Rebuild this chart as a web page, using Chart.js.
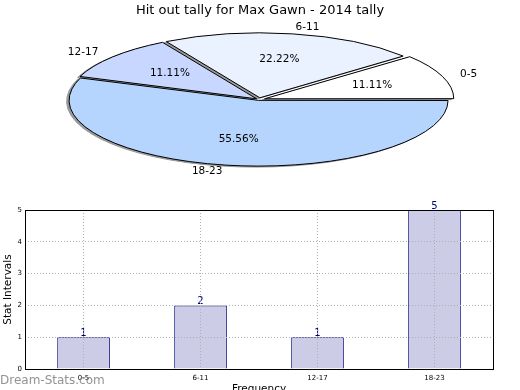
<!DOCTYPE html>
<html>
<head>
<meta charset="utf-8">
<script src="https://cdn.jsdelivr.net/npm/chart.js@4"></script>
<style>
  html, body { margin: 0; padding: 0; background: #fff; overflow: hidden; }
  body { width: 520px; height: 390px; position: relative; }
  canvas { position: absolute; left: 0; top: 0; }
</style>
</head>
<body>
<canvas id="barChart" width="520" height="400"></canvas>
<canvas id="pieChart" width="520" height="390"></canvas>
<script>
// chart data
const categories = ['0-5', '6-11', '12-17', '18-23'];
const tally = [1, 2, 1, 5];
const yTicks = [0, 1, 2, 3, 4, 5];

const sliceColors = ['#ffffff', '#eaf2ff', '#c7d7ff', '#b5d5ff'];
const titleText = 'Hit out tally for Max Gawn - 2014 tally';
const font = '"DejaVu Sans", Verdana, sans-serif';

// pie is a circle squashed into an ellipse
const pieCenter = { x: 259, y: 99.5 };
const squash = 0.347;
const shadowShift = { x: -2.5, y: 1 };

// pie goes counter-clockwise from 3 o'clock, chart.js goes clockwise
const pieLabels = categories.slice().reverse();
const pieValues = tally.slice().reverse();
const pieColors = sliceColors.slice().reverse();

function arcShift(arc) {
  // same displacement the arc element applies for its offset
  const off = (arc.options.offset || 0) / 4;
  const fix = 1 - Math.sin(Math.min(Math.PI, arc.circumference || 0));
  return off + off * fix;
}

function ellipseTransform(chart, dx, dy) {
  const ctx = chart.ctx;
  const arc = chart.getDatasetMeta(0).data[0];
  ctx.translate(pieCenter.x + dx, pieCenter.y + dy);
  ctx.scale(1, squash);
  ctx.translate(-arc.x, -arc.y);
}

function patchStroke(ctx, dpr, color) {
  const origStroke = CanvasRenderingContext2D.prototype.stroke;
  const origFill = CanvasRenderingContext2D.prototype.fill;
  ctx.stroke = function () {
    this.save();
    this.setTransform(dpr, 0, 0, dpr, 0, 0);
    if (color) this.strokeStyle = color;
    origStroke.apply(this, arguments);
    this.restore();
  };
  if (color) {
    ctx.fill = function () {
      this.fillStyle = color;
      origFill.apply(this, arguments);
    };
  }
}

function unpatch(ctx) {
  delete ctx.stroke;
  delete ctx.fill;
}

const ellipsePlugin = {
  id: 'ellipsePie',
  beforeDatasetsDraw(chart) {
    const ctx = chart.ctx;
    const dpr = chart.currentDevicePixelRatio;
    const meta = chart.getDatasetMeta(0);

    // shadow pass, under every slice
    ctx.save();
    ellipseTransform(chart, shadowShift.x, shadowShift.y);
    patchStroke(ctx, dpr, '#999999');
    meta.controller.draw();
    unpatch(ctx);
    ctx.restore();

    ctx.save();
    ellipseTransform(chart, 0, 0);
    patchStroke(ctx, dpr, null);
  },
  afterDatasetsDraw(chart) {
    const ctx = chart.ctx;
    unpatch(ctx);
    ctx.restore();

    const meta = chart.getDatasetMeta(0);
    const total = pieValues.reduce((a, b) => a + b, 0);
    ctx.save();
    ctx.fillStyle = '#000';
    ctx.font = '10.5px ' + font;
    ctx.textBaseline = 'middle';
    meta.data.forEach((arc, i) => {
      const mid = (arc.startAngle + arc.endAngle) / 2;
      const r = arc.outerRadius;
      const d = arcShift(arc);
      const cos = Math.cos(mid), sin = Math.sin(mid);

      const pr = d + r * 0.6;
      ctx.textAlign = 'center';
      ctx.fillText((pieValues[i] / total * 100).toFixed(2) + '%',
        pieCenter.x + pr * cos, pieCenter.y + pr * sin * squash);

      const lr = d + r * 1.1;
      ctx.textAlign = cos >= 0 ? 'left' : 'right';
      ctx.fillText(pieLabels[i], pieCenter.x + lr * cos, pieCenter.y + lr * sin * squash);
    });
    ctx.restore();
  }
};

new Chart(document.getElementById('pieChart'), {
  type: 'pie',
  data: {
    labels: pieLabels,
    datasets: [{
      data: pieValues,
      backgroundColor: pieColors,
      borderColor: '#000',
      borderWidth: 1,
      offset: [10, 12, 20, 24],
      clip: false
    }]
  },
  options: {
    responsive: false,
    animation: false,
    events: [],
    rotation: 90,
    radius: 187,
    plugins: {
      legend: { display: false },
      tooltip: { enabled: false },
      title: {
        display: true,
        text: titleText,
        color: '#000',
        font: { family: font, size: 13, weight: 'normal' },
        padding: { top: 3, bottom: 0 }
      }
    }
  },
  plugins: [ellipsePlugin]
});

// value labels, frame and watermark for the bar chart
const barExtras = {
  id: 'barExtras',
  afterDatasetsDraw(chart) {
    const ctx = chart.ctx;
    const meta = chart.getDatasetMeta(0);
    ctx.save();
    ctx.fillStyle = '#000080';
    ctx.font = '10px ' + font;
    ctx.textAlign = 'center';
    ctx.textBaseline = 'bottom';
    meta.data.forEach((bar, i) => {
      ctx.fillText(String(tally[i]), bar.x, bar.y + 1);
    });
    ctx.restore();
  },
  afterDraw(chart) {
    const ctx = chart.ctx;
    const a = chart.chartArea;
    ctx.save();
    ctx.strokeStyle = '#000';
    ctx.lineWidth = 1;
    ctx.strokeRect(Math.round(a.left) + 0.5, Math.round(a.top) + 0.5,
      Math.round(a.right - a.left), Math.round(a.bottom - a.top));

    ctx.fillStyle = 'rgba(128,128,128,0.85)';
    ctx.font = '12px ' + font;
    ctx.textAlign = 'left';
    ctx.textBaseline = 'alphabetic';
    ctx.fillText('Dream-Stats.com', 0, 384);
    ctx.restore();
  }
};

new Chart(document.getElementById('barChart'), {
  type: 'bar',
  data: {
    labels: categories,
    datasets: [{
      data: tally,
      backgroundColor: '#ccccE6',
      borderColor: '#000080',
      borderWidth: 1,
      barPercentage: 0.45,
      categoryPercentage: 1
    }]
  },
  options: {
    responsive: false,
    animation: false,
    events: [],
    layout: { padding: { top: 210, right: 27, bottom: 4, left: 0 } },
    plugins: {
      legend: { display: false },
      tooltip: { enabled: false }
    },
    scales: {
      x: {
        grid: { offset: false, drawTicks: false, color: '#b0b0b0', z: 1 },
        border: { display: false, dash: [1, 2] },
        ticks: { color: '#000', padding: 5, font: { family: font, size: 7 } },
        title: {
          display: true,
          text: 'Frequency',
          color: '#000',
          font: { family: font, size: 10.5 },
          padding: { top: -4, bottom: 0 }
        }
      },
      y: {
        min: 0,
        max: 5,
        afterBuildTicks(scale) {
          scale.ticks = yTicks.map(v => ({ value: v }));
        },
        grid: { drawTicks: false, color: '#b0b0b0', z: 1 },
        border: { display: false, dash: [1, 2] },
        ticks: { color: '#000', padding: 3, font: { family: font, size: 7 } },
        title: {
          display: true,
          text: 'Stat Intervals',
          color: '#000',
          font: { family: font, size: 10.5 },
          padding: { top: 2, bottom: 0 }
        }
      }
    }
  },
  plugins: [barExtras]
});
</script>
</body>
</html>
